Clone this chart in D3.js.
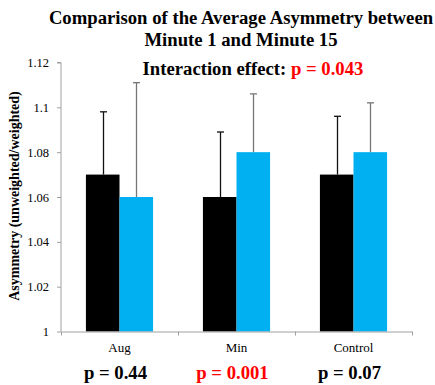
<!DOCTYPE html>
<html>
<head>
<meta charset="utf-8">
<script src="https://cdn.jsdelivr.net/npm/d3@7"></script>
<style>
  body { margin: 0; background: #fff; }
</style>
</head>
<body>
<svg id="chart" width="435" height="385"></svg>
<script>
const categories = ["Aug", "Min", "Control"];
const series = ["Minute 1", "Minute 15"];
const minute1 = [1.07, 1.06, 1.07];
const minute15 = [1.06, 1.08, 1.08];
const minute1Err = [0.028, 0.029, 0.026];
const minute15Err = [0.051, 0.026, 0.022];
const yTicks = [1, 1.02, 1.04, 1.06, 1.08, 1.1, 1.12];
const pValues = ["p = 0.44", "p = 0.001", "p = 0.07"];
const pSignificant = [false, true, false];

const colors = ["#000000", "#00b0f0"];
const errColors = ["#111111", "#777777"];
const serif = "'Liberation Serif'";
const bigSize = 18.7;

const svg = d3.select("#chart");

const x = d3.scaleBand().domain(categories).range([61, 412]);
const xs = d3.scaleBand().domain(series)
  .range([x.bandwidth() * 0.213, x.bandwidth() * 0.787]);
const y = d3.scaleLinear().domain([1, 1.12]).range([331.5, 62.5]);

const rows = [];
categories.forEach(function (c, i) {
  rows.push({ cat: c, s: 0, v: minute1[i], e: minute1Err[i] });
  rows.push({ cat: c, s: 1, v: minute15[i], e: minute15Err[i] });
});

// bars
svg.append("g")
  .selectAll("rect")
  .data(rows)
  .enter()
  .append("rect")
  .attr("x", function (d) { return x(d.cat) + xs(series[d.s]); })
  .attr("y", function (d) { return y(d.v); })
  .attr("width", xs.bandwidth())
  .attr("height", function (d) { return y(1) - y(d.v); })
  .attr("fill", function (d) { return colors[d.s]; });

// error bars (upper only)
const eg = svg.append("g");
rows.forEach(function (d) {
  const cx = Math.round(x(d.cat) + xs(series[d.s]) + xs.bandwidth() / 2) + 0.5;
  eg.append("line")
    .attr("x1", cx).attr("x2", cx)
    .attr("y1", y(d.v)).attr("y2", y(d.v + d.e))
    .attr("stroke", errColors[d.s])
    .attr("stroke-width", 1.3);
  eg.append("line")
    .attr("x1", cx - 3.5).attr("x2", cx + 3.5)
    .attr("y1", y(d.v + d.e)).attr("y2", y(d.v + d.e))
    .attr("stroke", errColors[d.s])
    .attr("stroke-width", 1.3);
});

// y axis
const yAxis = svg.append("g")
  .attr("transform", "translate(61,0)")
  .call(d3.axisLeft(y).tickValues(yTicks).tickSize(4).tickPadding(8)
    .tickFormat(function (d) { return String(+d.toFixed(2)); }));
yAxis.attr("font-family", null);
yAxis.selectAll("path, line").attr("stroke", "#a0a0a0");
yAxis.select(".domain").attr("d", "M-4," + y(1.12) + "H0V" + y(1));
yAxis.selectAll("text")
  .style("font-family", serif)
  .style("font-size", "12.5px")
  .attr("fill", "#000");

// x axis
const xAxis = svg.append("g")
  .attr("transform", "translate(0," + y(1) + ")")
  .call(d3.axisBottom(x).tickSize(0).tickPadding(11));
xAxis.attr("font-family", null);
xAxis.select(".domain").attr("stroke", "#a0a0a0");
xAxis.selectAll("text")
  .style("font-family", serif)
  .style("font-size", "13px")
  .attr("fill", "#000");
const bounds = categories.map(function (c) { return x(c); }).concat([x.range()[1]]);
xAxis.selectAll(".sep")
  .data(bounds)
  .enter()
  .append("line")
  .attr("x1", function (d) { return d + 0.5; })
  .attr("x2", function (d) { return d + 0.5; })
  .attr("y1", 0).attr("y2", 4)
  .attr("stroke", "#a0a0a0");

// p values under categories
svg.append("g")
  .selectAll("text")
  .data(categories)
  .enter()
  .append("text")
  .attr("x", function (c) { return x(c) + x.bandwidth() / 2 - 4; })
  .attr("y", 379)
  .attr("text-anchor", "middle")
  .style("font-family", serif)
  .attr("font-size", bigSize)
  .attr("font-weight", "bold")
  .attr("fill", function (c, i) { return pSignificant[i] ? "#ff0000" : "#000"; })
  .text(function (c, i) { return pValues[i]; });

// y axis title
svg.append("text")
  .attr("transform", "translate(19,196) rotate(-90)")
  .attr("text-anchor", "middle")
  .style("font-family", serif)
  .attr("font-size", 14)
  .attr("font-weight", "bold")
  .text("Asymmetry (unweighted/weighted)");

// title
const title = svg.append("text")
  .attr("text-anchor", "middle")
  .style("font-family", serif)
  .attr("font-size", bigSize)
  .attr("font-weight", "bold");
title.append("tspan").attr("x", 241).attr("y", 24)
  .text("Comparison of the Average Asymmetry between");
title.append("tspan").attr("x", 241).attr("y", 46)
  .text("Minute 1 and Minute 15");

// interaction effect
const inter = svg.append("text")
  .attr("x", 253).attr("y", 75)
  .attr("text-anchor", "middle")
  .style("font-family", serif)
  .attr("font-size", bigSize)
  .attr("font-weight", "bold");
inter.append("tspan").text("Interaction effect: ");
inter.append("tspan").attr("fill", "#ff0000").text("p = 0.043");
</script>
</body>
</html>
